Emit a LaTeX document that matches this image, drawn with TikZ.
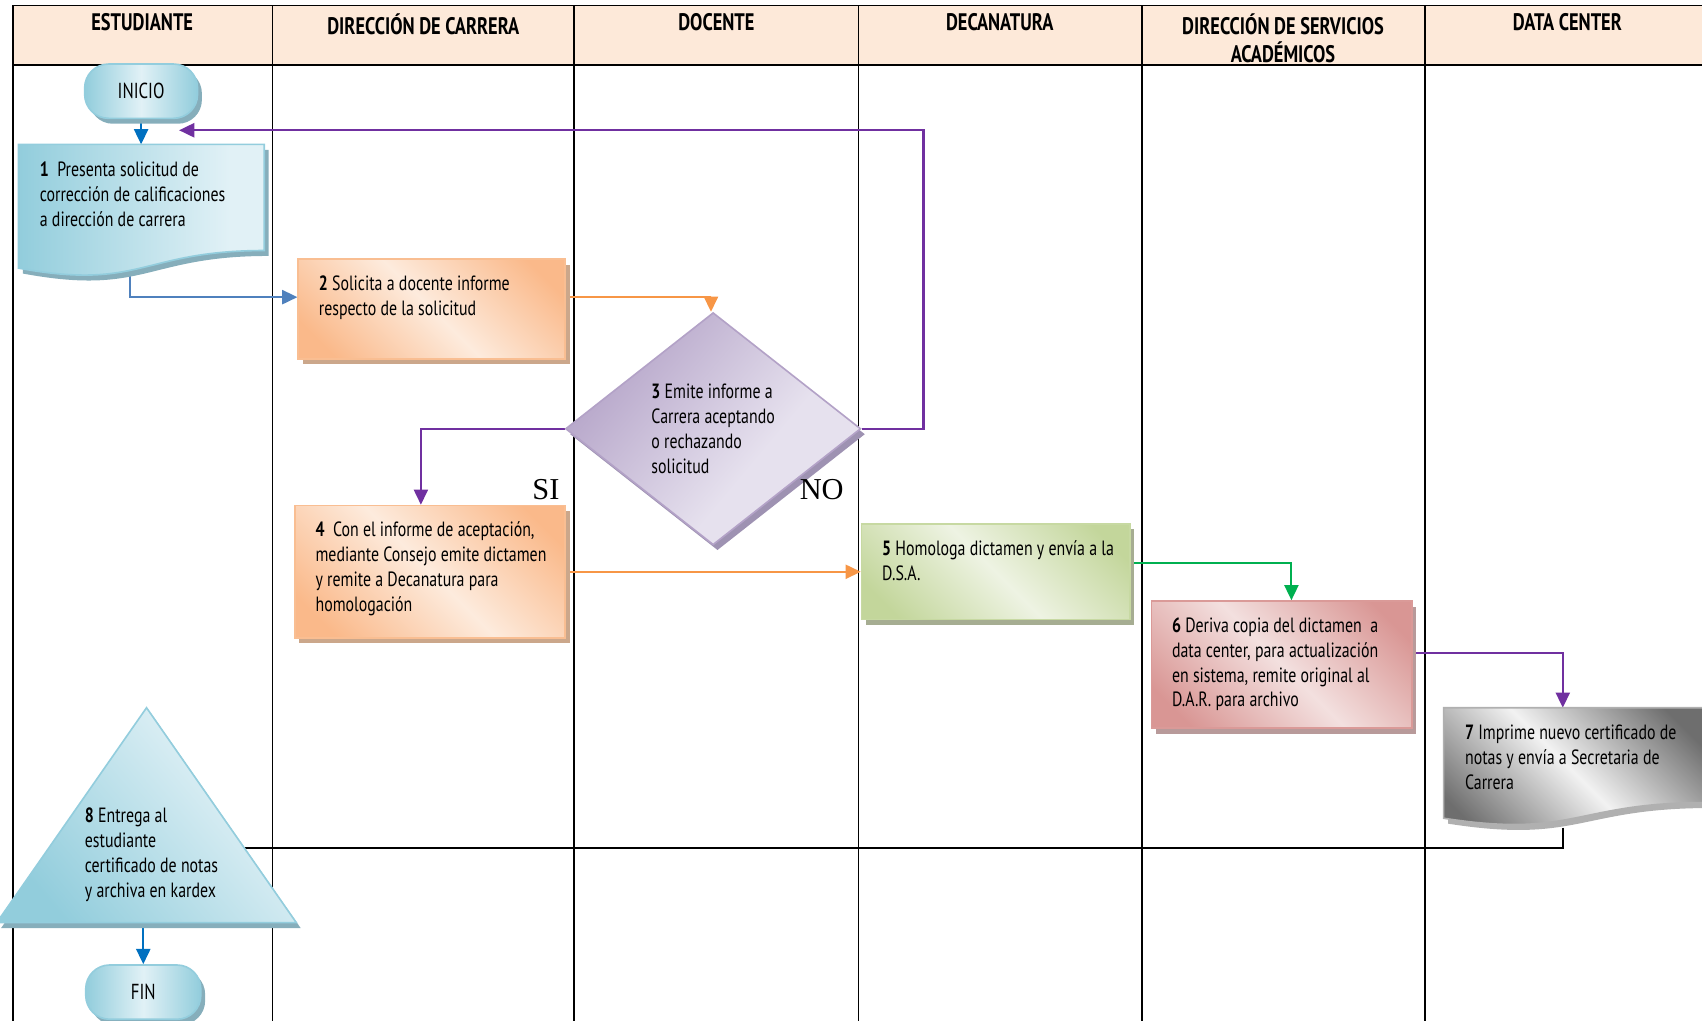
\documentclass[tikz,border=0pt]{standalone}
\usepackage{fontspec}
\setmainfont{PT Sans}[FakeStretch=0.77]
\newfontfamily\labelserif{Liberation Serif}
\usetikzlibrary{arrows.meta,shadows,shapes.geometric,calc}

% palette
\definecolor{hdrfill}{HTML}{FDE9D9}
\definecolor{bluedk}{HTML}{92CDDC}
\definecolor{bluelt}{HTML}{E1F1F6}
\definecolor{bluebd}{HTML}{93CDDD}
\definecolor{bluesh}{HTML}{86AEBB}
\definecolor{ordk}{HTML}{FAB98A}
\definecolor{orlt}{HTML}{FDEBDD}
\definecolor{orbd}{HTML}{F9BE92}
\definecolor{orsh}{HTML}{CBA78B}
\definecolor{pudk}{HTML}{B3A2C7}
\definecolor{pult}{HTML}{E6E1EE}
\definecolor{pubd}{HTML}{B3A2C7}
\definecolor{push}{HTML}{9E92B2}
\definecolor{grdk}{HTML}{C3D69B}
\definecolor{grlt}{HTML}{EEF3E3}
\definecolor{grbd}{HTML}{C7D9A2}
\definecolor{grsh}{HTML}{A6AD92}
\definecolor{rddk}{HTML}{D99694}
\definecolor{rdlt}{HTML}{F3E0DF}
\definecolor{rdbd}{HTML}{DA9A98}
\definecolor{rdsh}{HTML}{B89A9A}
\definecolor{gydk}{HTML}{6E6E6E}
\definecolor{gylt}{HTML}{F2F2F2}
\definecolor{gysh}{HTML}{B0B0B0}
\definecolor{arrowblue}{HTML}{0070C0}
\definecolor{arrowsteel}{HTML}{4F81BD}
\definecolor{arroworange}{HTML}{F79646}
\definecolor{arrowpurple}{HTML}{7030A0}
\definecolor{arrowgreen}{HTML}{00B050}

% gradients
\pgfdeclarehorizontalshading{blueshade}{100bp}{color(0bp)=(bluedk); color(25bp)=(bluedk); color(68bp)=(bluelt); color(100bp)=(bluelt)}
\pgfdeclarehorizontalshading{termshade}{100bp}{color(0bp)=(bluedk); color(25bp)=(bluedk); color(50bp)=(bluelt); color(75bp)=(bluedk); color(100bp)=(bluedk)}
\pgfdeclarehorizontalshading{orangeshade}{100bp}{color(0bp)=(ordk); color(22bp)=(ordk); color(50bp)=(orlt); color(78bp)=(ordk); color(100bp)=(ordk)}
\pgfdeclarehorizontalshading{purpleshade}{100bp}{color(0bp)=(pudk); color(25bp)=(pudk); color(60bp)=(pult); color(100bp)=(pult)}
\pgfdeclarehorizontalshading{greenshade}{100bp}{color(0bp)=(grdk); color(22bp)=(grdk); color(50bp)=(grlt); color(78bp)=(grdk); color(100bp)=(grdk)}
\pgfdeclarehorizontalshading{redshade}{100bp}{color(0bp)=(rddk); color(22bp)=(rddk); color(50bp)=(rdlt); color(78bp)=(rddk); color(100bp)=(rddk)}
\pgfdeclarehorizontalshading{grayshade}{100bp}{color(0bp)=(gydk); color(22bp)=(gydk); color(50bp)=(gylt); color(78bp)=(gydk); color(100bp)=(gydk)}

\pgfdeclarelayer{table}
\pgfdeclarelayer{edges}
\pgfdeclarelayer{shapes}
\pgfsetlayers{table,edges,shapes,main}

% fixed-size, top-aligned text block
\newcommand\boxtext[3]{\parbox[c][#2pt][t]{#1pt}{\raggedright #3}}

\tikzset{
  body/.style={font=\fontsize{19}{23}\selectfont},
  lanehead/.style={font=\bfseries\fontsize{22}{26}\selectfont, align=center, anchor=north, inner sep=0pt},
  lane/.style={line width=1.6pt, black},
  flow/.style={line width=1.8pt, -{Triangle[length=14pt,width=13pt]}},
  card/.style={rectangle, anchor=north west, inner xsep=19pt, inner ysep=15pt, line width=1.5pt, body},
  shadowof/.style={drop shadow={shadow xshift=4pt, shadow yshift=-5pt, fill=#1, opacity=1}},
  orangebox/.style={card, draw=orbd, shading=orangeshade, shading angle=45, shadowof=orsh},
  greenbox/.style={card, draw=grbd, shading=greenshade, shading angle=45, shadowof=grsh},
  redbox/.style={card, draw=rdbd, shading=redshade, shading angle=45, shadowof=rdsh},
  terminal/.style={rectangle, rounded corners=22pt, minimum width=104pt, minimum height=50pt,
    draw=bluebd, line width=1.5pt, shading=termshade, shading angle=0, shadowof=bluesh,
    font=\fontsize{20}{24}\selectfont},
  bluedoc/.style={draw=bluebd, line width=1.5pt, shading=blueshade, shading angle=0, shadowof=bluesh},
  graydoc/.style={draw=gysh, line width=1.5pt, shading=grayshade, shading angle=45, shadowof=gysh},
  decision/.style={diamond, draw=pubd, line width=1.5pt, shading=purpleshade, shading angle=-40,
    shadowof=push, minimum width=272pt, minimum height=214pt, inner sep=0pt, body, align=left},
  triangleshape/.style={draw=bluebd, line width=1.5pt, shading=blueshade, shading angle=40, shadowof=bluesh},
  answer/.style={font=\labelserif\fontsize{28}{30}\selectfont, inner sep=0pt}
}

\begin{document}
\begin{tikzpicture}[x=1pt,y=-1pt]
\useasboundingbox (0,0) rectangle (1568,940);
\clip (0,0) rectangle (1568,940);

% swimlane grid
\begin{pgfonlayer}{table}
  \fill[hdrfill] (12,5) rectangle (1590,60);
  \draw[lane] (1590,5) -- (12,5) -- (12,960);
  \draw[lane] (12,60) -- (1590,60);
  \foreach \x in {251,529,791,1052,1313}
    \draw[lane] (\x,5) -- (\x,960);
\end{pgfonlayer}

% lane titles
\node[lanehead] (h1) at (131,12) {ESTUDIANTE};
\node[lanehead] (h2) at (390,12) {DIRECCIÓN DE CARRERA};
\node[lanehead] (h3) at (660,12) {DOCENTE};
\node[lanehead] (h4) at (921,12) {DECANATURA};
\node[lanehead] (h5) at (1182,12) {DIRECCIÓN DE SERVICIOS\\ACADÉMICOS};
\node[lanehead] (h6) at (1444,12) {DATA CENTER};

% steps
\node[terminal] (inicio) at (130,84) {INICIO};

\node[card] (b1) at (17,133) {\boxtext{187}{92}{%
  \mbox{\textbf{1}\ \ Presenta solicitud de}\\
  \mbox{corrección de calificaciones}\\
  \mbox{a dirección de carrera}}};

\node[orangebox] (b2) at (274,238) {\boxtext{208}{62}{%
  \mbox{\textbf{2} Solicita a docente informe}\\
  \mbox{respecto de la solicitud}}};

\node[decision] (d3) at (657,395) {\textbf{3} Emite informe a\\Carrera aceptando\\o rechazando\\solicitud};

\node[orangebox] (b4) at (271,465) {\boxtext{211}{92}{%
  \mbox{\textbf{4}\ \ Con el informe de aceptación,}\\
  \mbox{mediante Consejo emite dictamen}\\
  \mbox{y remite a Decanatura para}\\
  \mbox{homologación}}};

\node[greenbox] (b5) at (793,482) {\boxtext{209}{58}{%
  \mbox{\textbf{5} Homologa dictamen y envía a la}\\
  \mbox{D.S.A.}}};

\node[redbox] (b6) at (1060,553) {\boxtext{202}{87}{%
  \mbox{\textbf{6} Deriva copia del dictamen\ \ a}\\
  \mbox{data center, para actualización}\\
  \mbox{en sistema, remite original al}\\
  \mbox{D.A.R. para archivo}}};

\node[card] (b7) at (1330,652) {\boxtext{202}{79}{%
  \mbox{\textbf{7} Imprime nuevo certificado de}\\
  \mbox{notas y envía a Secretaria de}\\
  \mbox{Carrera}}};

\node[body, anchor=north west, inner sep=0pt, align=left] (t8) at (78,744)
  {\textbf{8} Entrega al\\estudiante\\certificado de notas\\y archiva en kardex};

\node[terminal, minimum width=106pt] (fin) at (132,914) {FIN};

% outlines drawn behind the texts
\begin{pgfonlayer}{shapes}
  \path[bluedoc] (b1.north west) -- (b1.north east) -- ($(b1.north east)+(0,97.8)$)
    .. controls ($(b1.north)+(0,97.8)$) and ($(b1.north)+(0,135)$) .. ($(b1.north west)+(0,114)$) -- cycle;
  \path[graydoc] (b7.north west) -- (b7.north east) -- ($(b7.north east)+(0,87.4)$)
    .. controls ($(b7.north)+(0,87.4)$) and ($(b7.north)+(0,120.7)$) .. ($(b7.north west)+(0,101.8)$) -- cycle;
  \path[triangleshape] (135,652) -- (273,850) -- (-3,850) -- cycle;
\end{pgfonlayer}

% answers
\node[answer] (si) at (503,451) {SI};
\node[answer] (no) at (757,451) {NO};

% connectors
\coordinate (ret) at (165,120);
\begin{pgfonlayer}{edges}
  \draw[flow, color=arrowblue] (inicio.south) -- (inicio.south |- b1.north);
  \draw[flow, color=arrowsteel] ([xshift=-10.5pt]b1.center) |- ([yshift=11pt]b2.west);
  \draw[flow, color=arroworange] ([yshift=11pt]b2.east) -| ([xshift=-2pt]d3.north);
  \draw[flow, color=arrowpurple] (d3.west) -| ([xshift=-8.5pt]b4.north);
  \draw[flow, color=arrowpurple, line width=2pt] (d3.east) -- ++(57,0) |- (ret);
  \draw[flow, color=arroworange] (b4.east) -- (b5.west);
  \draw[flow, color=arrowgreen] ([yshift=8pt]b5.east) -| ([xshift=9pt]b6.north);
  \draw[flow, color=arrowpurple] ([yshift=10.5pt]b6.east) -| ([xshift=-11pt]b7.north);
  \draw[line width=2pt, black] ([xshift=-11pt]b7.south) |- ([yshift=6pt]t8.east);
  \draw[flow, color=arrowblue] (fin.north |- 0,850) -- (fin.north);
\end{pgfonlayer}
\end{tikzpicture}
\end{document}
